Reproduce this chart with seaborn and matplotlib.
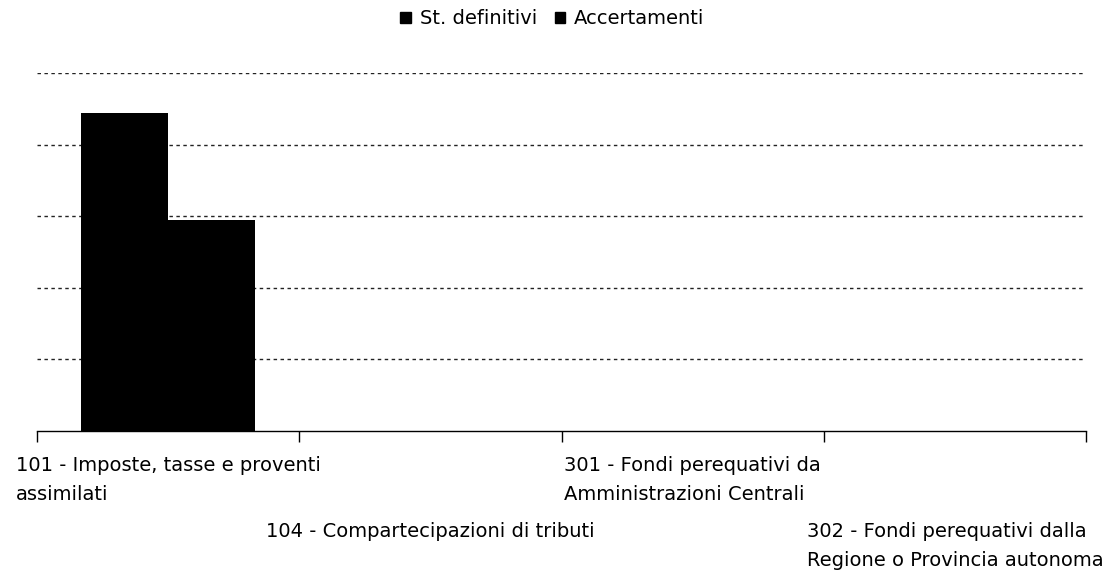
import matplotlib
matplotlib.use("Agg")
import matplotlib.pyplot as plt
import seaborn as sns
import pandas as pd
from matplotlib.patches import Patch

categories = [
    "101 - Imposte, tasse e proventi\nassimilati",
    "104 - Compartecipazioni di tributi",
    "301 - Fondi perequativi da\nAmministrazioni Centrali",
    "302 - Fondi perequativi dalla\nRegione o Provincia autonoma",
]
series = ["St. definitivi", "Accertamenti"]
st_definitivi = [4.44, 0.0, 0.0, 0.0]
accertamenti = [2.95, 0.0, 0.0, 0.0]
label_rows = [0, 1, 0, 1]

df = pd.DataFrame({
    "cat": categories * 2,
    "serie": [series[0]] * 4 + [series[1]] * 4,
    "val": st_definitivi + accertamenti,
})

sns.set_theme(style="white")
plt.rcParams["font.family"] = ["DejaVu Sans"]
plt.rcParams["text.color"] = "black"

fig = plt.figure(figsize=(11.05, 5.73), dpi=100)
ax = fig.add_axes([37/1105, 1 - 431/573, (1086-37)/1105, (431-73)/573])

sns.barplot(data=df, x="cat", y="val", hue="serie", order=categories,
            hue_order=series, palette=["black", "black"], width=0.664,
            saturation=1, legend=False, ax=ax, edgecolor="black", linewidth=0)

ax.set_xlim(-0.5, 3.5)
ax.set_ylim(0, 5)
ax.set_yticks([1, 2, 3, 4, 5])
ax.set_yticklabels([])
ax.tick_params(axis="y", length=0)
ax.yaxis.grid(True, color="#222222", linestyle=(0, (2.5, 2.5)), linewidth=1.0)
ax.set_axisbelow(True)

ax.set_xticks([-0.5, 0.5, 1.5, 2.5, 3.5])
ax.set_xticklabels([])
ax.tick_params(axis="x", length=8, width=1, color="black", direction="out", bottom=True)
for s in ["top", "right", "left"]:
    ax.spines[s].set_visible(False)
ax.spines["bottom"].set_color("black")
ax.spines["bottom"].set_linewidth(1)
ax.set_xlabel("")
ax.set_ylabel("")

for i, (lab, row) in enumerate(zip(categories, label_rows)):
    ax.annotate(lab, xy=(i, 0), xycoords=("data", "axes fraction"),
                xytext=(0, -25 - row * 66), textcoords="offset pixels",
                ha="center", va="top", multialignment="left",
                fontsize=14, linespacing=1.65, color="black")

handles = [Patch(facecolor="black", edgecolor="black", label=s) for s in series]
fig.legend(handles=handles, loc="center", bbox_to_anchor=(0.5, 1 - 19/573),
           ncol=2, frameon=False, fontsize=14, handlelength=0.55, handleheight=0.55,
           handletextpad=0.45, columnspacing=0.9, labelcolor="black")

fig.savefig("out.png", dpi=100, facecolor="white")
